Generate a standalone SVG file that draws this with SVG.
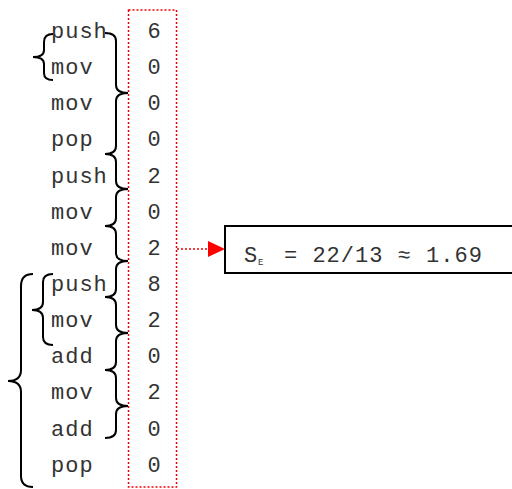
<svg xmlns="http://www.w3.org/2000/svg" width="512" height="489" viewBox="0 0 512 489">
<style>
.t{font-family:"Liberation Mono","Courier New",monospace;font-size:22px;fill:#333;letter-spacing:1px}
.n{font-family:"Liberation Mono","Courier New",monospace;font-size:22px;fill:#333;text-anchor:middle}
.sub{font-family:"Liberation Mono","Courier New",monospace;font-size:9px;fill:#333}
.br{fill:none;stroke:#000;stroke-width:2}
.red{fill:none;stroke:#e00;stroke-width:1.5;stroke-dasharray:2,2}
</style>
<rect width="512" height="489" fill="#fff"/>
<g id="column">
<rect class="red" x="128.5" y="10" width="48" height="477"/>
</g>
<g id="instructions">
<text class="t" x="51" y="38">push</text>
<text class="t" x="51" y="74">mov</text>
<text class="t" x="51" y="110">mov</text>
<text class="t" x="51" y="146">pop</text>
<text class="t" x="51" y="183">push</text>
<text class="t" x="51" y="219">mov</text>
<text class="t" x="51" y="255">mov</text>
<text class="t" x="51" y="291">push</text>
<text class="t" x="51" y="327">mov</text>
<text class="t" x="51" y="363">add</text>
<text class="t" x="51" y="399">mov</text>
<text class="t" x="51" y="436">add</text>
<text class="t" x="51" y="472">pop</text>
</g>
<g id="values">
<text class="n" x="154" y="38">6</text>
<text class="n" x="154" y="74">0</text>
<text class="n" x="154" y="110">0</text>
<text class="n" x="154" y="146">0</text>
<text class="n" x="154" y="183">2</text>
<text class="n" x="154" y="219">0</text>
<text class="n" x="154" y="255">2</text>
<text class="n" x="154" y="291">8</text>
<text class="n" x="154" y="327">2</text>
<text class="n" x="154" y="363">0</text>
<text class="n" x="154" y="399">2</text>
<text class="n" x="154" y="436">0</text>
<text class="n" x="154" y="472">0</text>
</g>
<g id="braces">
<path class="br" d="M105,33 Q116,33 116,41 L116,85 Q116,93 128,93 Q116,93 116,101 L116,146 Q116,154 105,154"/>
<path class="br" d="M105,154 Q116,154 116,162 L116,181 Q116,189 128,189 Q116,189 116,197 L116,218 Q116,226 105,226"/>
<path class="br" d="M105,226 Q116,226 116,234 L116,253 Q116,261 128,261 Q116,261 116,269 L116,289 Q116,297 105,297"/>
<path class="br" d="M105,297 Q116,297 116,305 L116,325 Q116,333 128,333 Q116,333 116,341 L116,362 Q116,370 105,370"/>
<path class="br" d="M105,370 Q116,370 116,378 L116,398 Q116,406 128,406 Q116,406 116,414 L116,430 Q116,438 105,438"/>
<path class="br" d="M53,34 Q44,34 44,42 L44,50 Q44,57 33,57 Q44,57 44,64 L44,73 Q44,80 53,80"/>
<path class="br" d="M53,274 Q43,274 43,282 L43,302 Q43,310 32,310 Q43,310 43,318 L43,337 Q43,345 53,345"/>
<path class="br" d="M33,274 Q21,274 21,286 L21,370 Q21,381 8,381 Q21,381 21,392 L21,476 Q21,487 33,487"/>
</g>
<g id="connectors">
<line class="red" x1="177" y1="249" x2="208" y2="249"/>
<polygon points="208,241 225,249 208,257" fill="#f00"/>
</g>
<g id="result">
<rect x="225" y="226" width="300" height="47" fill="#fff" stroke="#000" stroke-width="2"/>
<text class="t" x="244" y="262">S</text>
<text class="sub" x="258" y="265">E</text>
<text class="t" x="284" y="262">= 22/13 ≈ 1.69</text>
</g>
</svg>
